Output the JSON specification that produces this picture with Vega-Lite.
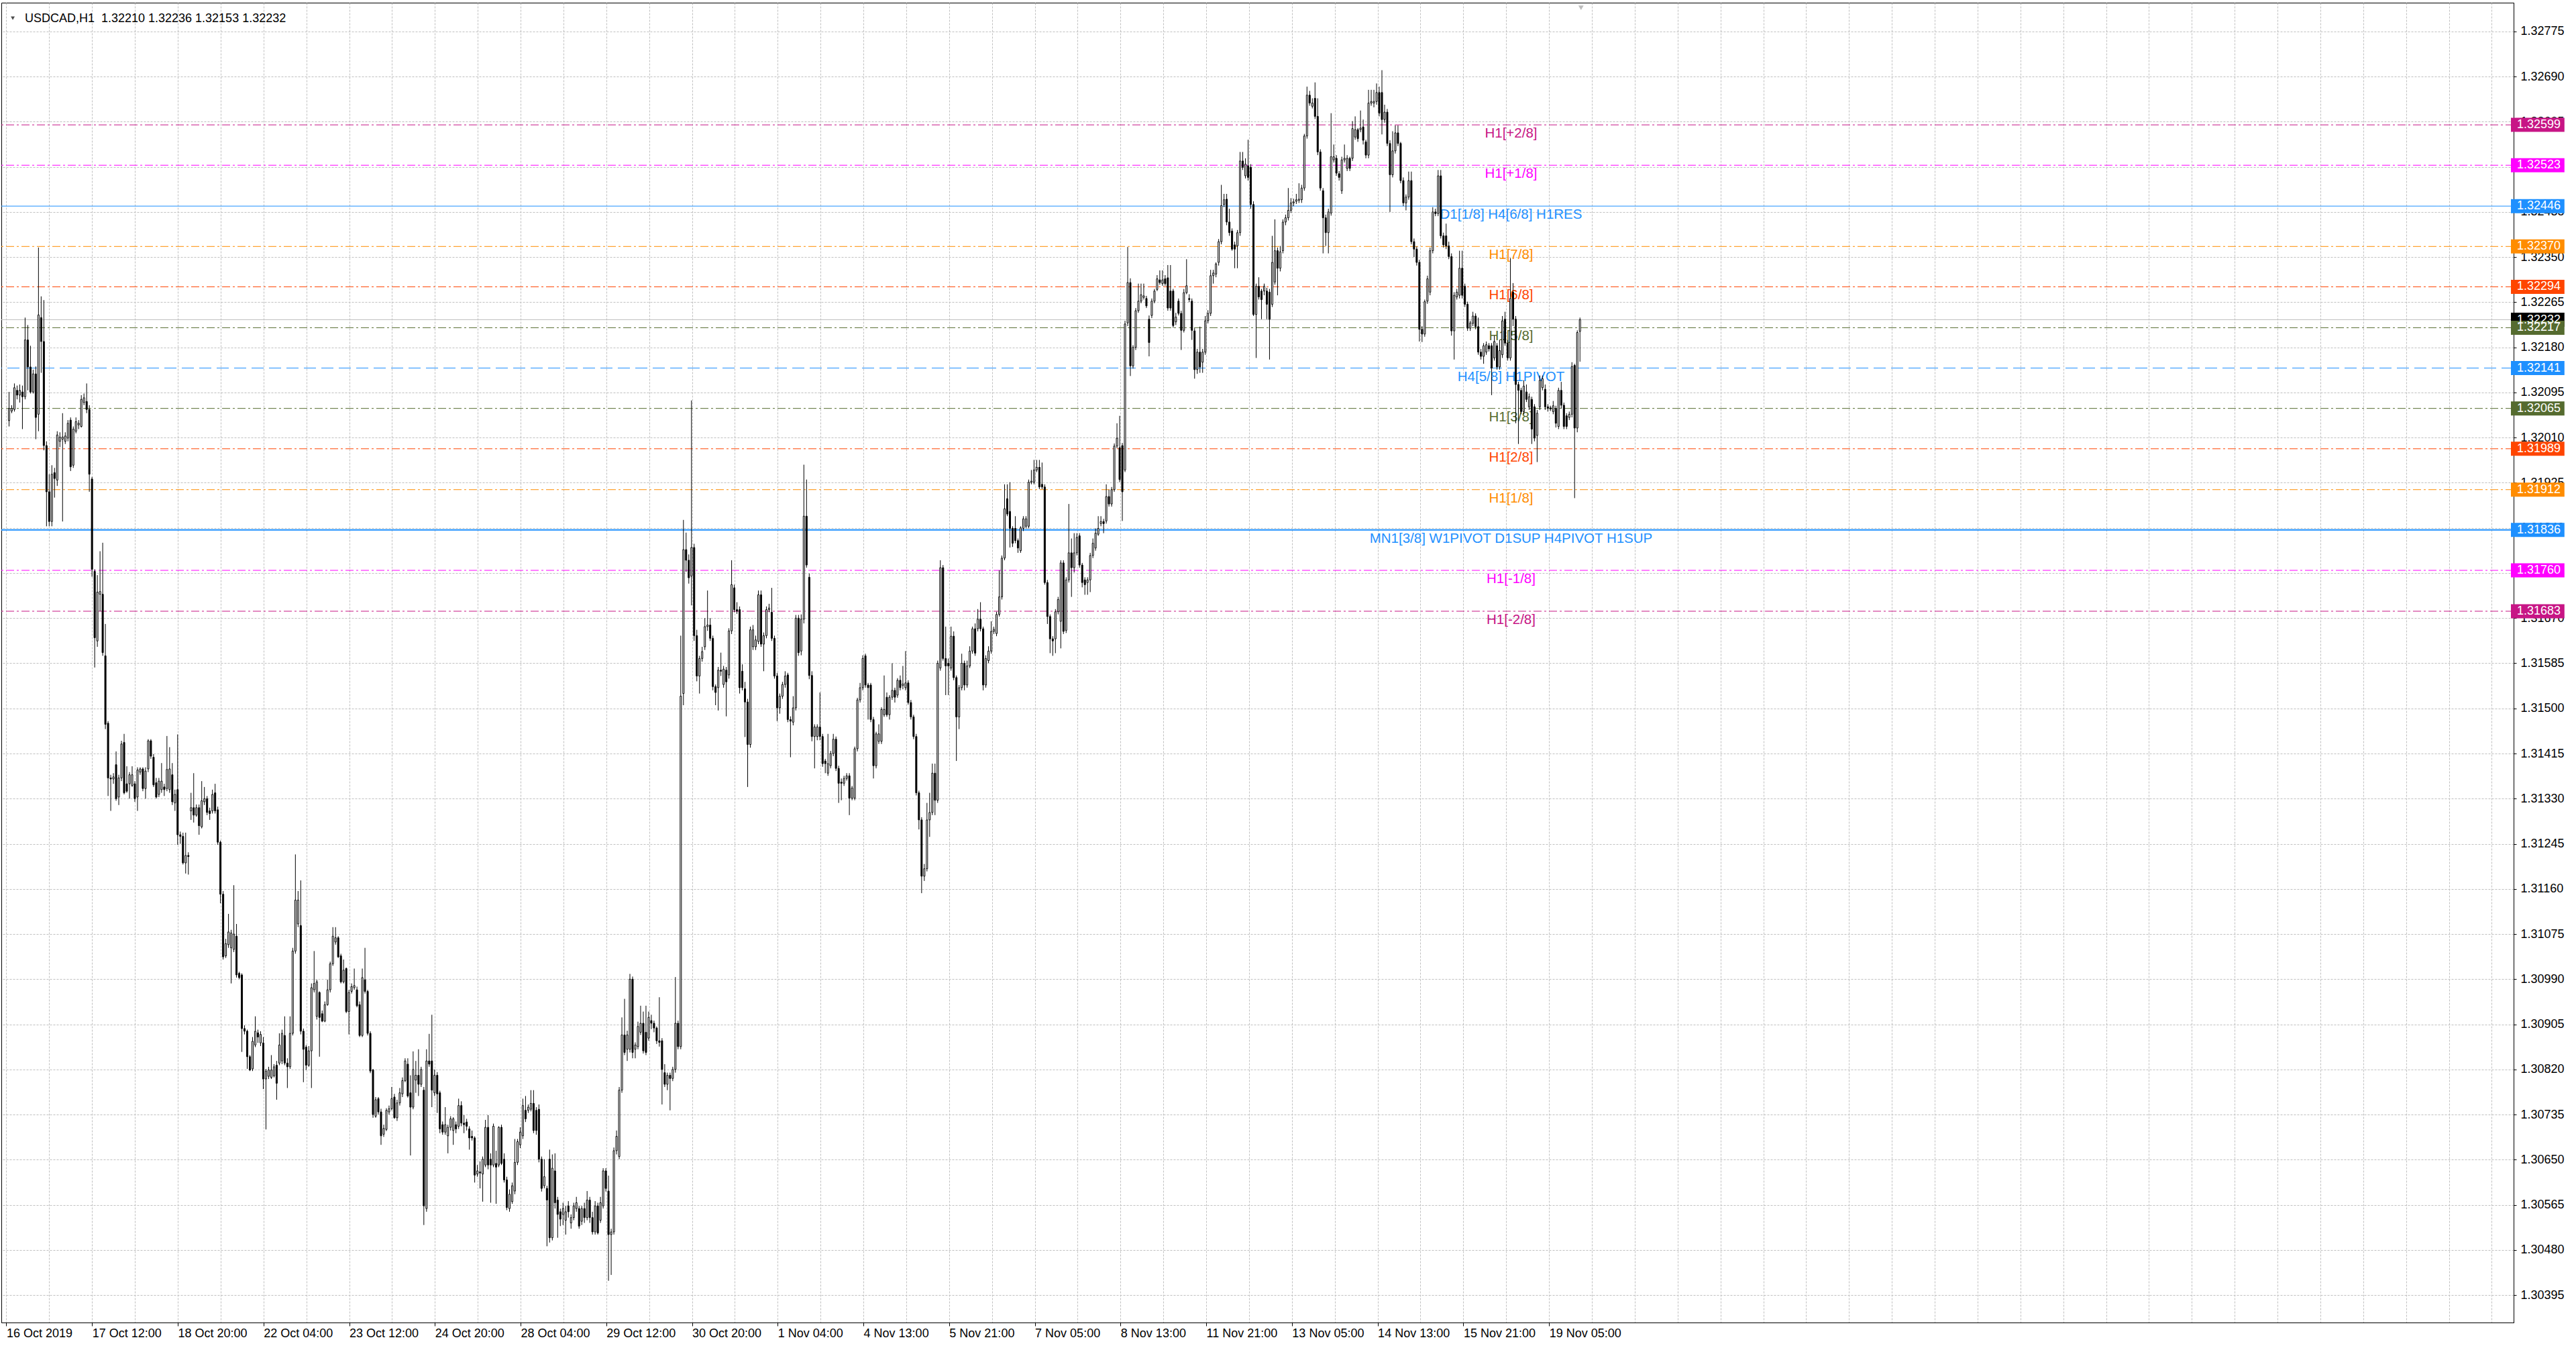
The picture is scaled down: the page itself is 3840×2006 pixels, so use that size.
{
"$schema":"https://vega.github.io/schema/vega-lite/v6.json",
"width":3745,"height":1967,
"autosize":{"type":"none"},
"padding":{"left":2,"top":4,"right":93,"bottom":35},
"background":"white",
"config":{"view":{"stroke":"black","strokeWidth":1},"font":"Liberation Sans"},
"resolve":{"axis":{"x":"independent","y":"independent"}},
"datasets":{
"levels":[
{"p":1.32232,"t":"","c":"gray","s":"solid"},
{"p":1.32599,"t":"H1[+2/8]","c":"mvr","s":"dd"},
{"p":1.32523,"t":"H1[+1/8]","c":"mag","s":"dd"},
{"p":1.32446,"t":"D1[1/8] H4[6/8] H1RES","c":"blue","s":"solid"},
{"p":1.3237,"t":"H1[7/8]","c":"orange","s":"dd"},
{"p":1.32294,"t":"H1[6/8]","c":"ored","s":"dd"},
{"p":1.32217,"t":"H1[5/8]","c":"olive","s":"dd"},
{"p":1.32141,"t":"H4[5/8] H1PIVOT","c":"blue","s":"dash"},
{"p":1.32065,"t":"H1[3/8]","c":"olive","s":"dd"},
{"p":1.31989,"t":"H1[2/8]","c":"ored","s":"dd"},
{"p":1.31912,"t":"H1[1/8]","c":"orange","s":"dd"},
{"p":1.31836,"t":"MN1[3/8] W1PIVOT D1SUP H4PIVOT H1SUP","c":"blue","s":"thick"},
{"p":1.3176,"t":"H1[-1/8]","c":"mag","s":"dd"},
{"p":1.31683,"t":"H1[-2/8]","c":"mvr","s":"dd"}
],
"boxes":[
{"p":1.32232,"c":"black"},
{"p":1.32599,"c":"mvr"},
{"p":1.32523,"c":"mag"},
{"p":1.32446,"c":"blue"},
{"p":1.3237,"c":"orange"},
{"p":1.32294,"c":"ored"},
{"p":1.32217,"c":"olive"},
{"p":1.32141,"c":"blue"},
{"p":1.32065,"c":"olive"},
{"p":1.31989,"c":"ored"},
{"p":1.31912,"c":"orange"},
{"p":1.31836,"c":"blue"},
{"p":1.3176,"c":"mag"},
{"p":1.31683,"c":"mvr"}
],
"bars":[
{"i":0,"o":1.32042,"h":1.32096,"l":1.32031,"c":1.32065},
{"i":1,"o":1.32060,"h":1.32071,"l":1.32056,"c":1.32065},
{"i":2,"o":1.32063,"h":1.32112,"l":1.32059,"c":1.32104},
{"i":3,"o":1.32099,"h":1.32108,"l":1.32082,"c":1.32090},
{"i":4,"o":1.32090,"h":1.32110,"l":1.32076,"c":1.32099},
{"i":5,"o":1.32096,"h":1.32108,"l":1.32026,"c":1.32087},
{"i":6,"o":1.32087,"h":1.32236,"l":1.32082,"c":1.32194},
{"i":7,"o":1.32194,"h":1.32222,"l":1.32099,"c":1.32143},
{"i":8,"o":1.32143,"h":1.32183,"l":1.32093,"c":1.32096},
{"i":9,"o":1.32096,"h":1.32138,"l":1.32093,"c":1.32130},
{"i":10,"o":1.32130,"h":1.32144,"l":1.32007,"c":1.32048},
{"i":11,"o":1.32054,"h":1.32368,"l":1.32022,"c":1.32241},
{"i":12,"o":1.32236,"h":1.32276,"l":1.32132,"c":1.32191},
{"i":13,"o":1.32191,"h":1.32269,"l":1.31986,"c":1.31995},
{"i":14,"o":1.31995,"h":1.32003,"l":1.31843,"c":1.31908},
{"i":15,"o":1.31908,"h":1.31941,"l":1.31843,"c":1.31852},
{"i":16,"o":1.31852,"h":1.31958,"l":1.31843,"c":1.31941},
{"i":17,"o":1.31944,"h":1.31953,"l":1.31897,"c":1.31933},
{"i":18,"o":1.31930,"h":1.32022,"l":1.31919,"c":1.32015},
{"i":19,"o":1.32003,"h":1.32020,"l":1.31992,"c":1.32011},
{"i":20,"o":1.32007,"h":1.32056,"l":1.31852,"c":1.32011},
{"i":21,"o":1.32003,"h":1.32020,"l":1.31998,"c":1.32013},
{"i":22,"o":1.32009,"h":1.32043,"l":1.32003,"c":1.32037},
{"i":23,"o":1.32043,"h":1.32048,"l":1.31947,"c":1.31955},
{"i":24,"o":1.31958,"h":1.32031,"l":1.31953,"c":1.32026},
{"i":25,"o":1.32022,"h":1.32048,"l":1.32018,"c":1.32040},
{"i":26,"o":1.32034,"h":1.32043,"l":1.32026,"c":1.32037},
{"i":27,"o":1.32031,"h":1.32090,"l":1.32029,"c":1.32082},
{"i":28,"o":1.32076,"h":1.32093,"l":1.32071,"c":1.32085},
{"i":29,"o":1.32078,"h":1.32112,"l":1.32056,"c":1.32063},
{"i":30,"o":1.32063,"h":1.32071,"l":1.31908,"c":1.31941},
{"i":31,"o":1.31932,"h":1.31936,"l":1.31748,"c":1.31762},
{"i":32,"o":1.31758,"h":1.31762,"l":1.31577,"c":1.31633},
{"i":33,"o":1.31627,"h":1.31751,"l":1.31616,"c":1.31719},
{"i":34,"o":1.31715,"h":1.31796,"l":1.31683,"c":1.31720},
{"i":35,"o":1.31715,"h":1.31812,"l":1.31599,"c":1.31605},
{"i":36,"o":1.31599,"h":1.31659,"l":1.31461,"c":1.31470},
{"i":37,"o":1.31472,"h":1.31476,"l":1.31335,"c":1.31369},
{"i":38,"o":1.31369,"h":1.31375,"l":1.31307,"c":1.31367},
{"i":39,"o":1.31367,"h":1.31378,"l":1.31358,"c":1.31371},
{"i":40,"o":1.31394,"h":1.31419,"l":1.31326,"c":1.31330},
{"i":41,"o":1.31333,"h":1.31375,"l":1.31318,"c":1.31369},
{"i":42,"o":1.31369,"h":1.31439,"l":1.31363,"c":1.31433},
{"i":43,"o":1.31436,"h":1.31452,"l":1.31338,"c":1.31341},
{"i":44,"o":1.31358,"h":1.31391,"l":1.31341,"c":1.31344},
{"i":45,"o":1.31358,"h":1.31380,"l":1.31330,"c":1.31375},
{"i":46,"o":1.31355,"h":1.31391,"l":1.31352,"c":1.31375},
{"i":47,"o":1.31358,"h":1.31363,"l":1.31324,"c":1.31330},
{"i":48,"o":1.31333,"h":1.31389,"l":1.31307,"c":1.31384},
{"i":49,"o":1.31380,"h":1.31389,"l":1.31375,"c":1.31386},
{"i":50,"o":1.31386,"h":1.31389,"l":1.31344,"c":1.31349},
{"i":51,"o":1.31349,"h":1.31389,"l":1.31330,"c":1.31382},
{"i":52,"o":1.31386,"h":1.31442,"l":1.31380,"c":1.31439},
{"i":53,"o":1.31439,"h":1.31442,"l":1.31405,"c":1.31410},
{"i":54,"o":1.31408,"h":1.31414,"l":1.31352,"c":1.31356},
{"i":55,"o":1.31360,"h":1.31369,"l":1.31330,"c":1.31333},
{"i":56,"o":1.31338,"h":1.31369,"l":1.31333,"c":1.31363},
{"i":57,"o":1.31347,"h":1.31397,"l":1.31341,"c":1.31363},
{"i":58,"o":1.31352,"h":1.31358,"l":1.31335,"c":1.31347},
{"i":59,"o":1.31349,"h":1.31448,"l":1.31344,"c":1.31385},
{"i":60,"o":1.31347,"h":1.31427,"l":1.31341,"c":1.31386},
{"i":61,"o":1.31375,"h":1.31397,"l":1.31318,"c":1.31324},
{"i":62,"o":1.31322,"h":1.31347,"l":1.31307,"c":1.31338},
{"i":63,"o":1.31347,"h":1.31451,"l":1.31243,"c":1.31262},
{"i":64,"o":1.31262,"h":1.31268,"l":1.31245,"c":1.31259},
{"i":65,"o":1.31259,"h":1.31266,"l":1.31206,"c":1.31209},
{"i":66,"o":1.31209,"h":1.31266,"l":1.31189,"c":1.31223},
{"i":67,"o":1.31223,"h":1.31229,"l":1.31187,"c":1.31221},
{"i":68,"o":1.31307,"h":1.31341,"l":1.31290,"c":1.31313},
{"i":69,"o":1.31313,"h":1.31378,"l":1.31285,"c":1.31299},
{"i":70,"o":1.31299,"h":1.31319,"l":1.31296,"c":1.31313},
{"i":71,"o":1.31313,"h":1.31319,"l":1.31262,"c":1.31279},
{"i":72,"o":1.31277,"h":1.31363,"l":1.31274,"c":1.31326},
{"i":73,"o":1.31324,"h":1.31352,"l":1.31318,"c":1.31330},
{"i":74,"o":1.31330,"h":1.31335,"l":1.31299,"c":1.31304},
{"i":75,"o":1.31307,"h":1.31313,"l":1.31290,"c":1.31302},
{"i":76,"o":1.31307,"h":1.31347,"l":1.31302,"c":1.31338},
{"i":77,"o":1.31341,"h":1.31358,"l":1.31302,"c":1.31307},
{"i":78,"o":1.31309,"h":1.31315,"l":1.31243,"c":1.31248},
{"i":79,"o":1.31248,"h":1.31251,"l":1.31133,"c":1.31150},
{"i":80,"o":1.31150,"h":1.31156,"l":1.31027,"c":1.31032},
{"i":81,"o":1.31034,"h":1.31066,"l":1.31030,"c":1.31057},
{"i":82,"o":1.31055,"h":1.31113,"l":1.31049,"c":1.31079},
{"i":83,"o":1.31049,"h":1.31083,"l":1.30982,"c":1.31077},
{"i":84,"o":1.31046,"h":1.31167,"l":1.31041,"c":1.31075},
{"i":85,"o":1.31071,"h":1.31094,"l":1.30993,"c":1.30998},
{"i":86,"o":1.31001,"h":1.31004,"l":1.30990,"c":1.30993},
{"i":87,"o":1.30998,"h":1.31001,"l":1.30853,"c":1.30897},
{"i":88,"o":1.30897,"h":1.30903,"l":1.30886,"c":1.30892},
{"i":89,"o":1.30892,"h":1.30895,"l":1.30821,"c":1.30844},
{"i":90,"o":1.30844,"h":1.30847,"l":1.30817,"c":1.30819},
{"i":91,"o":1.30821,"h":1.30881,"l":1.30817,"c":1.30873},
{"i":92,"o":1.30866,"h":1.30920,"l":1.30862,"c":1.30892},
{"i":93,"o":1.30889,"h":1.30895,"l":1.30870,"c":1.30881},
{"i":94,"o":1.30870,"h":1.30892,"l":1.30864,"c":1.30886},
{"i":95,"o":1.30870,"h":1.30881,"l":1.30783,"c":1.30802},
{"i":96,"o":1.30802,"h":1.30821,"l":1.30707,"c":1.30817},
{"i":97,"o":1.30807,"h":1.30825,"l":1.30802,"c":1.30819},
{"i":98,"o":1.30805,"h":1.30847,"l":1.30802,"c":1.30819},
{"i":99,"o":1.30808,"h":1.30830,"l":1.30805,"c":1.30825},
{"i":100,"o":1.30828,"h":1.30836,"l":1.30763,"c":1.30794},
{"i":101,"o":1.30832,"h":1.30888,"l":1.30828,"c":1.30866},
{"i":102,"o":1.30836,"h":1.30895,"l":1.30830,"c":1.30888},
{"i":103,"o":1.30884,"h":1.30920,"l":1.30828,"c":1.30832},
{"i":104,"o":1.30832,"h":1.30841,"l":1.30785,"c":1.30825},
{"i":105,"o":1.30825,"h":1.30920,"l":1.30821,"c":1.30888},
{"i":106,"o":1.30888,"h":1.31049,"l":1.30884,"c":1.31043},
{"i":107,"o":1.31043,"h":1.31225,"l":1.31038,"c":1.31139},
{"i":108,"o":1.31094,"h":1.31156,"l":1.31088,"c":1.31139},
{"i":109,"o":1.31091,"h":1.31176,"l":1.30886,"c":1.30892},
{"i":110,"o":1.30892,"h":1.30897,"l":1.30796,"c":1.30858},
{"i":111,"o":1.30862,"h":1.30866,"l":1.30819,"c":1.30828},
{"i":112,"o":1.30828,"h":1.30864,"l":1.30825,"c":1.30855},
{"i":113,"o":1.30855,"h":1.30982,"l":1.30785,"c":1.30974},
{"i":114,"o":1.30970,"h":1.31043,"l":1.30965,"c":1.30982},
{"i":115,"o":1.30920,"h":1.30989,"l":1.30914,"c":1.30985},
{"i":116,"o":1.30965,"h":1.30967,"l":1.30844,"c":1.30918},
{"i":117,"o":1.30925,"h":1.30931,"l":1.30909,"c":1.30911},
{"i":118,"o":1.30911,"h":1.30948,"l":1.30909,"c":1.30942},
{"i":119,"o":1.30942,"h":1.30989,"l":1.30940,"c":1.30970},
{"i":120,"o":1.30970,"h":1.31023,"l":1.30965,"c":1.31019},
{"i":121,"o":1.31019,"h":1.31088,"l":1.31015,"c":1.31071},
{"i":122,"o":1.31060,"h":1.31088,"l":1.31055,"c":1.31068},
{"i":123,"o":1.31068,"h":1.31071,"l":1.31030,"c":1.31032},
{"i":124,"o":1.31034,"h":1.31038,"l":1.30982,"c":1.30985},
{"i":125,"o":1.30985,"h":1.31027,"l":1.30982,"c":1.31007},
{"i":126,"o":1.31010,"h":1.31012,"l":1.30926,"c":1.30929},
{"i":127,"o":1.30929,"h":1.30970,"l":1.30886,"c":1.30965},
{"i":128,"o":1.30967,"h":1.30982,"l":1.30963,"c":1.30976},
{"i":129,"o":1.30974,"h":1.31010,"l":1.30970,"c":1.30978},
{"i":130,"o":1.30970,"h":1.30976,"l":1.30937,"c":1.30940},
{"i":131,"o":1.30942,"h":1.30948,"l":1.30881,"c":1.30884},
{"i":132,"o":1.30884,"h":1.31010,"l":1.30881,"c":1.30993},
{"i":133,"o":1.30989,"h":1.31049,"l":1.30963,"c":1.30967},
{"i":134,"o":1.30967,"h":1.30970,"l":1.30884,"c":1.30888},
{"i":135,"o":1.30888,"h":1.30892,"l":1.30813,"c":1.30817},
{"i":136,"o":1.30819,"h":1.30821,"l":1.30729,"c":1.30735},
{"i":137,"o":1.30732,"h":1.30768,"l":1.30729,"c":1.30763},
{"i":138,"o":1.30765,"h":1.30768,"l":1.30735,"c":1.30740},
{"i":139,"o":1.30740,"h":1.30746,"l":1.30678,"c":1.30695},
{"i":140,"o":1.30698,"h":1.30716,"l":1.30693,"c":1.30709},
{"i":141,"o":1.30707,"h":1.30747,"l":1.30704,"c":1.30743},
{"i":142,"o":1.30740,"h":1.30752,"l":1.30735,"c":1.30746},
{"i":143,"o":1.30746,"h":1.30787,"l":1.30743,"c":1.30765},
{"i":144,"o":1.30768,"h":1.30774,"l":1.30727,"c":1.30729},
{"i":145,"o":1.30729,"h":1.30763,"l":1.30723,"c":1.30757},
{"i":146,"o":1.30757,"h":1.30785,"l":1.30752,"c":1.30776},
{"i":147,"o":1.30774,"h":1.30805,"l":1.30768,"c":1.30799},
{"i":148,"o":1.30799,"h":1.30841,"l":1.30796,"c":1.30836},
{"i":149,"o":1.30830,"h":1.30841,"l":1.30767,"c":1.30770},
{"i":150,"o":1.30776,"h":1.30809,"l":1.30658,"c":1.30749},
{"i":151,"o":1.30749,"h":1.30854,"l":1.30745,"c":1.30820},
{"i":152,"o":1.30800,"h":1.30836,"l":1.30776,"c":1.30809},
{"i":153,"o":1.30809,"h":1.30858,"l":1.30770,"c":1.30792},
{"i":154,"o":1.30792,"h":1.30825,"l":1.30787,"c":1.30820},
{"i":155,"o":1.30781,"h":1.30787,"l":1.30527,"c":1.30563},
{"i":156,"o":1.30558,"h":1.30858,"l":1.30552,"c":1.30836},
{"i":157,"o":1.30836,"h":1.30887,"l":1.30825,"c":1.30830},
{"i":158,"o":1.30836,"h":1.30923,"l":1.30749,"c":1.30781},
{"i":159,"o":1.30776,"h":1.30820,"l":1.30770,"c":1.30809},
{"i":160,"o":1.30809,"h":1.30815,"l":1.30738,"c":1.30774},
{"i":161,"o":1.30776,"h":1.30780,"l":1.30700,"c":1.30708},
{"i":162,"o":1.30716,"h":1.30722,"l":1.30697,"c":1.30702},
{"i":163,"o":1.30702,"h":1.30749,"l":1.30697,"c":1.30716},
{"i":164,"o":1.30695,"h":1.30716,"l":1.30662,"c":1.30711},
{"i":165,"o":1.30711,"h":1.30732,"l":1.30705,"c":1.30727},
{"i":166,"o":1.30705,"h":1.30730,"l":1.30678,"c":1.30727},
{"i":167,"o":1.30716,"h":1.30722,"l":1.30700,"c":1.30708},
{"i":168,"o":1.30713,"h":1.30765,"l":1.30708,"c":1.30752},
{"i":169,"o":1.30752,"h":1.30760,"l":1.30713,"c":1.30719},
{"i":170,"o":1.30719,"h":1.30734,"l":1.30700,"c":1.30716},
{"i":171,"o":1.30721,"h":1.30727,"l":1.30705,"c":1.30713},
{"i":172,"o":1.30708,"h":1.30713,"l":1.30669,"c":1.30691},
{"i":173,"o":1.30694,"h":1.30705,"l":1.30686,"c":1.30691},
{"i":174,"o":1.30691,"h":1.30694,"l":1.30607,"c":1.30621},
{"i":175,"o":1.30623,"h":1.30640,"l":1.30618,"c":1.30629},
{"i":176,"o":1.30627,"h":1.30647,"l":1.30596,"c":1.30625},
{"i":177,"o":1.30623,"h":1.30656,"l":1.30571,"c":1.30651},
{"i":178,"o":1.30640,"h":1.30725,"l":1.30636,"c":1.30711},
{"i":179,"o":1.30711,"h":1.30734,"l":1.30632,"c":1.30640},
{"i":180,"o":1.30651,"h":1.30662,"l":1.30569,"c":1.30640},
{"i":181,"o":1.30640,"h":1.30718,"l":1.30636,"c":1.30713},
{"i":182,"o":1.30643,"h":1.30667,"l":1.30567,"c":1.30636},
{"i":183,"o":1.30640,"h":1.30713,"l":1.30636,"c":1.30711},
{"i":184,"o":1.30711,"h":1.30716,"l":1.30640,"c":1.30643},
{"i":185,"o":1.30651,"h":1.30662,"l":1.30607,"c":1.30612},
{"i":186,"o":1.30612,"h":1.30618,"l":1.30555,"c":1.30560},
{"i":187,"o":1.30558,"h":1.30594,"l":1.30552,"c":1.30585},
{"i":188,"o":1.30571,"h":1.30607,"l":1.30567,"c":1.30601},
{"i":189,"o":1.30591,"h":1.30689,"l":1.30585,"c":1.30645},
{"i":190,"o":1.30645,"h":1.30689,"l":1.30640,"c":1.30684},
{"i":191,"o":1.30678,"h":1.30711,"l":1.30672,"c":1.30702},
{"i":192,"o":1.30695,"h":1.30765,"l":1.30689,"c":1.30752},
{"i":193,"o":1.30743,"h":1.30770,"l":1.30721,"c":1.30727},
{"i":194,"o":1.30743,"h":1.30754,"l":1.30738,"c":1.30749},
{"i":195,"o":1.30745,"h":1.30781,"l":1.30741,"c":1.30756},
{"i":196,"o":1.30756,"h":1.30781,"l":1.30700,"c":1.30705},
{"i":197,"o":1.30743,"h":1.30749,"l":1.30697,"c":1.30705},
{"i":198,"o":1.30745,"h":1.30754,"l":1.30645,"c":1.30651},
{"i":199,"o":1.30651,"h":1.30656,"l":1.30590,"c":1.30596},
{"i":200,"o":1.30601,"h":1.30651,"l":1.30596,"c":1.30618},
{"i":201,"o":1.30596,"h":1.30601,"l":1.30487,"c":1.30574},
{"i":202,"o":1.30651,"h":1.30669,"l":1.30494,"c":1.30503},
{"i":203,"o":1.30503,"h":1.30660,"l":1.30498,"c":1.30634},
{"i":204,"o":1.30629,"h":1.30662,"l":1.30558,"c":1.30569},
{"i":205,"o":1.30574,"h":1.30580,"l":1.30503,"c":1.30547},
{"i":206,"o":1.30552,"h":1.30558,"l":1.30525,"c":1.30538},
{"i":207,"o":1.30547,"h":1.30569,"l":1.30527,"c":1.30558},
{"i":208,"o":1.30536,"h":1.30563,"l":1.30509,"c":1.30552},
{"i":209,"o":1.30563,"h":1.30572,"l":1.30541,"c":1.30552},
{"i":210,"o":1.30531,"h":1.30547,"l":1.30520,"c":1.30541},
{"i":211,"o":1.30541,"h":1.30569,"l":1.30536,"c":1.30563},
{"i":212,"o":1.30558,"h":1.30580,"l":1.30552,"c":1.30569},
{"i":213,"o":1.30558,"h":1.30563,"l":1.30520,"c":1.30525},
{"i":214,"o":1.30534,"h":1.30563,"l":1.30527,"c":1.30558},
{"i":215,"o":1.30558,"h":1.30569,"l":1.30531,"c":1.30541},
{"i":216,"o":1.30541,"h":1.30591,"l":1.30536,"c":1.30574},
{"i":217,"o":1.30574,"h":1.30580,"l":1.30531,"c":1.30541},
{"i":218,"o":1.30541,"h":1.30552,"l":1.30509,"c":1.30514},
{"i":219,"o":1.30514,"h":1.30572,"l":1.30509,"c":1.30563},
{"i":220,"o":1.30563,"h":1.30569,"l":1.30509,"c":1.30512},
{"i":221,"o":1.30536,"h":1.30580,"l":1.30531,"c":1.30569},
{"i":222,"o":1.30563,"h":1.30634,"l":1.30558,"c":1.30629},
{"i":223,"o":1.30629,"h":1.30634,"l":1.30590,"c":1.30596},
{"i":224,"o":1.30591,"h":1.30620,"l":1.30422,"c":1.30509},
{"i":225,"o":1.30509,"h":1.30520,"l":1.30433,"c":1.30514},
{"i":226,"o":1.30514,"h":1.30673,"l":1.30509,"c":1.30667},
{"i":227,"o":1.30667,"h":1.30705,"l":1.30660,"c":1.30694},
{"i":228,"o":1.30656,"h":1.30787,"l":1.30651,"c":1.30781},
{"i":229,"o":1.30781,"h":1.30918,"l":1.30776,"c":1.30885},
{"i":230,"o":1.30885,"h":1.30953,"l":1.30847,"c":1.30852},
{"i":231,"o":1.30858,"h":1.30893,"l":1.30836,"c":1.30885},
{"i":232,"o":1.30858,"h":1.31000,"l":1.30852,"c":1.30990},
{"i":233,"o":1.30990,"h":1.30995,"l":1.30841,"c":1.30852},
{"i":234,"o":1.30858,"h":1.30871,"l":1.30841,"c":1.30866},
{"i":235,"o":1.30863,"h":1.30910,"l":1.30858,"c":1.30901},
{"i":236,"o":1.30890,"h":1.30940,"l":1.30885,"c":1.30907},
{"i":237,"o":1.30907,"h":1.30929,"l":1.30850,"c":1.30855},
{"i":238,"o":1.30890,"h":1.30940,"l":1.30847,"c":1.30852},
{"i":239,"o":1.30879,"h":1.30929,"l":1.30874,"c":1.30918},
{"i":240,"o":1.30912,"h":1.30923,"l":1.30896,"c":1.30907},
{"i":241,"o":1.30907,"h":1.30912,"l":1.30890,"c":1.30898},
{"i":242,"o":1.30898,"h":1.30901,"l":1.30868,"c":1.30874},
{"i":243,"o":1.30874,"h":1.30956,"l":1.30863,"c":1.30871},
{"i":244,"o":1.30874,"h":1.30879,"l":1.30754,"c":1.30820},
{"i":245,"o":1.30814,"h":1.30830,"l":1.30787,"c":1.30792},
{"i":246,"o":1.30792,"h":1.30814,"l":1.30781,"c":1.30809},
{"i":247,"o":1.30809,"h":1.30814,"l":1.30743,"c":1.30803},
{"i":248,"o":1.30803,"h":1.30825,"l":1.30798,"c":1.30820},
{"i":249,"o":1.30820,"h":1.30994,"l":1.30814,"c":1.30907},
{"i":250,"o":1.30907,"h":1.30912,"l":1.30858,"c":1.30863},
{"i":251,"o":1.30863,"h":1.31637,"l":1.30858,"c":1.31523},
{"i":252,"o":1.31528,"h":1.31855,"l":1.31506,"c":1.31799},
{"i":253,"o":1.31799,"h":1.31831,"l":1.31757,"c":1.31779},
{"i":254,"o":1.31779,"h":1.31790,"l":1.31735,"c":1.31746},
{"i":255,"o":1.31749,"h":1.32080,"l":1.31694,"c":1.31803},
{"i":256,"o":1.31803,"h":1.31810,"l":1.31627,"c":1.31637},
{"i":257,"o":1.31637,"h":1.31648,"l":1.31551,"c":1.31561},
{"i":258,"o":1.31561,"h":1.31599,"l":1.31528,"c":1.31594},
{"i":259,"o":1.31594,"h":1.31616,"l":1.31588,"c":1.31607},
{"i":260,"o":1.31616,"h":1.31670,"l":1.31610,"c":1.31654},
{"i":261,"o":1.31654,"h":1.31722,"l":1.31646,"c":1.31657},
{"i":262,"o":1.31657,"h":1.31670,"l":1.31627,"c":1.31632},
{"i":263,"o":1.31632,"h":1.31637,"l":1.31534,"c":1.31541},
{"i":264,"o":1.31541,"h":1.31545,"l":1.31506,"c":1.31530},
{"i":265,"o":1.31539,"h":1.31578,"l":1.31496,"c":1.31572},
{"i":266,"o":1.31572,"h":1.31605,"l":1.31561,"c":1.31570},
{"i":267,"o":1.31545,"h":1.31580,"l":1.31539,"c":1.31574},
{"i":268,"o":1.31572,"h":1.31578,"l":1.31485,"c":1.31550},
{"i":269,"o":1.31563,"h":1.31651,"l":1.31556,"c":1.31646},
{"i":270,"o":1.31646,"h":1.31779,"l":1.31640,"c":1.31733},
{"i":271,"o":1.31727,"h":1.31733,"l":1.31681,"c":1.31686},
{"i":272,"o":1.31686,"h":1.31700,"l":1.31678,"c":1.31683},
{"i":273,"o":1.31686,"h":1.31692,"l":1.31528,"c":1.31539},
{"i":274,"o":1.31570,"h":1.31583,"l":1.31534,"c":1.31539},
{"i":275,"o":1.31537,"h":1.31550,"l":1.31446,"c":1.31512},
{"i":276,"o":1.31512,"h":1.31518,"l":1.31352,"c":1.31432},
{"i":277,"o":1.31432,"h":1.31654,"l":1.31426,"c":1.31648},
{"i":278,"o":1.31616,"h":1.31657,"l":1.31610,"c":1.31648},
{"i":279,"o":1.31616,"h":1.31637,"l":1.31610,"c":1.31629},
{"i":280,"o":1.31626,"h":1.31722,"l":1.31621,"c":1.31714},
{"i":281,"o":1.31714,"h":1.31722,"l":1.31616,"c":1.31621},
{"i":282,"o":1.31621,"h":1.31643,"l":1.31570,"c":1.31637},
{"i":283,"o":1.31637,"h":1.31692,"l":1.31632,"c":1.31686},
{"i":284,"o":1.31686,"h":1.31697,"l":1.31681,"c":1.31689},
{"i":285,"o":1.31681,"h":1.31727,"l":1.31627,"c":1.31632},
{"i":286,"o":1.31632,"h":1.31637,"l":1.31556,"c":1.31561},
{"i":287,"o":1.31561,"h":1.31567,"l":1.31476,"c":1.31501},
{"i":288,"o":1.31501,"h":1.31528,"l":1.31490,"c":1.31523},
{"i":289,"o":1.31523,"h":1.31550,"l":1.31518,"c":1.31545},
{"i":290,"o":1.31545,"h":1.31570,"l":1.31539,"c":1.31561},
{"i":291,"o":1.31563,"h":1.31567,"l":1.31474,"c":1.31479},
{"i":292,"o":1.31479,"h":1.31485,"l":1.31408,"c":1.31476},
{"i":293,"o":1.31474,"h":1.31523,"l":1.31468,"c":1.31501},
{"i":294,"o":1.31501,"h":1.31676,"l":1.31496,"c":1.31670},
{"i":295,"o":1.31670,"h":1.31676,"l":1.31599,"c":1.31605},
{"i":296,"o":1.31608,"h":1.31677,"l":1.31600,"c":1.31668},
{"i":297,"o":1.31668,"h":1.31959,"l":1.31660,"c":1.31862},
{"i":298,"o":1.31862,"h":1.31931,"l":1.31765,"c":1.31770},
{"i":299,"o":1.31747,"h":1.31754,"l":1.31555,"c":1.31562},
{"i":300,"o":1.31562,"h":1.31570,"l":1.31438,"c":1.31447},
{"i":301,"o":1.31447,"h":1.31470,"l":1.31387,"c":1.31465},
{"i":302,"o":1.31447,"h":1.31470,"l":1.31440,"c":1.31465},
{"i":303,"o":1.31465,"h":1.31530,"l":1.31440,"c":1.31447},
{"i":304,"o":1.31447,"h":1.31452,"l":1.31390,"c":1.31396},
{"i":305,"o":1.31401,"h":1.31405,"l":1.31378,"c":1.31396},
{"i":306,"o":1.31378,"h":1.31452,"l":1.31373,"c":1.31396},
{"i":307,"o":1.31392,"h":1.31420,"l":1.31387,"c":1.31415},
{"i":308,"o":1.31415,"h":1.31452,"l":1.31410,"c":1.31442},
{"i":309,"o":1.31442,"h":1.31447,"l":1.31382,"c":1.31387},
{"i":310,"o":1.31387,"h":1.31392,"l":1.31322,"c":1.31359},
{"i":311,"o":1.31361,"h":1.31368,"l":1.31327,"c":1.31359},
{"i":312,"o":1.31359,"h":1.31373,"l":1.31354,"c":1.31368},
{"i":313,"o":1.31368,"h":1.31378,"l":1.31364,"c":1.31373},
{"i":314,"o":1.31373,"h":1.31378,"l":1.31299,"c":1.31331},
{"i":315,"o":1.31331,"h":1.31354,"l":1.31327,"c":1.31350},
{"i":316,"o":1.31331,"h":1.31428,"l":1.31327,"c":1.31424},
{"i":317,"o":1.31424,"h":1.31520,"l":1.31419,"c":1.31516},
{"i":318,"o":1.31516,"h":1.31548,"l":1.31511,"c":1.31539},
{"i":319,"o":1.31539,"h":1.31600,"l":1.31534,"c":1.31594},
{"i":320,"o":1.31599,"h":1.31603,"l":1.31539,"c":1.31544},
{"i":321,"o":1.31544,"h":1.31548,"l":1.31479,"c":1.31539},
{"i":322,"o":1.31544,"h":1.31548,"l":1.31474,"c":1.31479},
{"i":323,"o":1.31479,"h":1.31484,"l":1.31368,"c":1.31392},
{"i":324,"o":1.31392,"h":1.31456,"l":1.31387,"c":1.31452},
{"i":325,"o":1.31438,"h":1.31470,"l":1.31433,"c":1.31452},
{"i":326,"o":1.31438,"h":1.31502,"l":1.31433,"c":1.31498},
{"i":327,"o":1.31488,"h":1.31562,"l":1.31484,"c":1.31498},
{"i":328,"o":1.31521,"h":1.31530,"l":1.31484,"c":1.31488},
{"i":329,"o":1.31488,"h":1.31525,"l":1.31479,"c":1.31521},
{"i":330,"o":1.31521,"h":1.31585,"l":1.31516,"c":1.31534},
{"i":331,"o":1.31534,"h":1.31539,"l":1.31511,"c":1.31521},
{"i":332,"o":1.31525,"h":1.31557,"l":1.31520,"c":1.31553},
{"i":333,"o":1.31553,"h":1.31562,"l":1.31534,"c":1.31539},
{"i":334,"o":1.31543,"h":1.31580,"l":1.31536,"c":1.31546},
{"i":335,"o":1.31539,"h":1.31608,"l":1.31534,"c":1.31548},
{"i":336,"o":1.31548,"h":1.31553,"l":1.31507,"c":1.31511},
{"i":337,"o":1.31511,"h":1.31516,"l":1.31479,"c":1.31484},
{"i":338,"o":1.31484,"h":1.31488,"l":1.31442,"c":1.31447},
{"i":339,"o":1.31447,"h":1.31452,"l":1.31336,"c":1.31341},
{"i":340,"o":1.31341,"h":1.31345,"l":1.31272,"c":1.31290},
{"i":341,"o":1.31290,"h":1.31295,"l":1.31152,"c":1.31184},
{"i":342,"o":1.31184,"h":1.31207,"l":1.31175,"c":1.31198},
{"i":343,"o":1.31198,"h":1.31322,"l":1.31193,"c":1.31290},
{"i":344,"o":1.31290,"h":1.31341,"l":1.31258,"c":1.31304},
{"i":345,"o":1.31304,"h":1.31396,"l":1.31299,"c":1.31378},
{"i":346,"o":1.31378,"h":1.31396,"l":1.31299,"c":1.31327},
{"i":347,"o":1.31327,"h":1.31590,"l":1.31322,"c":1.31585},
{"i":348,"o":1.31576,"h":1.31779,"l":1.31571,"c":1.31765},
{"i":349,"o":1.31765,"h":1.31770,"l":1.31590,"c":1.31594},
{"i":350,"o":1.31594,"h":1.31654,"l":1.31525,"c":1.31580},
{"i":351,"o":1.31585,"h":1.31594,"l":1.31525,"c":1.31580},
{"i":352,"o":1.31576,"h":1.31654,"l":1.31571,"c":1.31636},
{"i":353,"o":1.31636,"h":1.31645,"l":1.31553,"c":1.31558},
{"i":354,"o":1.31558,"h":1.31562,"l":1.31401,"c":1.31484},
{"i":355,"o":1.31484,"h":1.31544,"l":1.31461,"c":1.31539},
{"i":356,"o":1.31539,"h":1.31603,"l":1.31534,"c":1.31585},
{"i":357,"o":1.31585,"h":1.31590,"l":1.31534,"c":1.31544},
{"i":358,"o":1.31544,"h":1.31590,"l":1.31539,"c":1.31580},
{"i":359,"o":1.31580,"h":1.31617,"l":1.31576,"c":1.31608},
{"i":360,"o":1.31608,"h":1.31654,"l":1.31603,"c":1.31650},
{"i":361,"o":1.31650,"h":1.31660,"l":1.31599,"c":1.31604},
{"i":362,"o":1.31650,"h":1.31687,"l":1.31645,"c":1.31668},
{"i":363,"o":1.31668,"h":1.31700,"l":1.31645,"c":1.31650},
{"i":364,"o":1.31650,"h":1.31654,"l":1.31534,"c":1.31544},
{"i":365,"o":1.31544,"h":1.31600,"l":1.31539,"c":1.31594},
{"i":366,"o":1.31590,"h":1.31617,"l":1.31585,"c":1.31608},
{"i":367,"o":1.31608,"h":1.31664,"l":1.31603,"c":1.31645},
{"i":368,"o":1.31645,"h":1.31654,"l":1.31640,"c":1.31649},
{"i":369,"o":1.31641,"h":1.31682,"l":1.31636,"c":1.31677},
{"i":370,"o":1.31677,"h":1.31760,"l":1.31673,"c":1.31710},
{"i":371,"o":1.31710,"h":1.31788,"l":1.31705,"c":1.31783},
{"i":372,"o":1.31783,"h":1.31922,"l":1.31779,"c":1.31876},
{"i":373,"o":1.31895,"h":1.31922,"l":1.31862,"c":1.31866},
{"i":374,"o":1.31871,"h":1.31926,"l":1.31803,"c":1.31839},
{"i":375,"o":1.31839,"h":1.31843,"l":1.31804,"c":1.31811},
{"i":376,"o":1.31839,"h":1.31862,"l":1.31811,"c":1.31816},
{"i":377,"o":1.31816,"h":1.31820,"l":1.31793,"c":1.31802},
{"i":378,"o":1.31797,"h":1.31843,"l":1.31793,"c":1.31840},
{"i":379,"o":1.31839,"h":1.31862,"l":1.31834,"c":1.31857},
{"i":380,"o":1.31843,"h":1.31862,"l":1.31839,"c":1.31857},
{"i":381,"o":1.31843,"h":1.31931,"l":1.31839,"c":1.31926},
{"i":382,"o":1.31926,"h":1.31949,"l":1.31922,"c":1.31928},
{"i":383,"o":1.31926,"h":1.31968,"l":1.31922,"c":1.31949},
{"i":384,"o":1.31949,"h":1.31968,"l":1.31945,"c":1.31954},
{"i":385,"o":1.31954,"h":1.31968,"l":1.31913,"c":1.31917},
{"i":386,"o":1.31922,"h":1.31963,"l":1.31913,"c":1.31917},
{"i":387,"o":1.31917,"h":1.31922,"l":1.31733,"c":1.31737},
{"i":388,"o":1.31737,"h":1.31742,"l":1.31659,"c":1.31673},
{"i":389,"o":1.31673,"h":1.31677,"l":1.31604,"c":1.31631},
{"i":390,"o":1.31631,"h":1.31636,"l":1.31599,"c":1.31627},
{"i":391,"o":1.31631,"h":1.31687,"l":1.31604,"c":1.31682},
{"i":392,"o":1.31682,"h":1.31710,"l":1.31677,"c":1.31705},
{"i":393,"o":1.31664,"h":1.31779,"l":1.31613,"c":1.31774},
{"i":394,"o":1.31774,"h":1.31779,"l":1.31640,"c":1.31645},
{"i":395,"o":1.31647,"h":1.31747,"l":1.31642,"c":1.31742},
{"i":396,"o":1.31742,"h":1.31885,"l":1.31737,"c":1.31793},
{"i":397,"o":1.31793,"h":1.31820,"l":1.31710,"c":1.31765},
{"i":398,"o":1.31765,"h":1.31830,"l":1.31756,"c":1.31793},
{"i":399,"o":1.31793,"h":1.31830,"l":1.31788,"c":1.31822},
{"i":400,"o":1.31825,"h":1.31830,"l":1.31765,"c":1.31770},
{"i":401,"o":1.31770,"h":1.31774,"l":1.31728,"c":1.31737},
{"i":402,"o":1.31742,"h":1.31747,"l":1.31714,"c":1.31733},
{"i":403,"o":1.31737,"h":1.31747,"l":1.31714,"c":1.31742},
{"i":404,"o":1.31742,"h":1.31793,"l":1.31719,"c":1.31788},
{"i":405,"o":1.31788,"h":1.31820,"l":1.31783,"c":1.31811},
{"i":406,"o":1.31802,"h":1.31839,"l":1.31797,"c":1.31830},
{"i":407,"o":1.31828,"h":1.31862,"l":1.31825,"c":1.31839},
{"i":408,"o":1.31848,"h":1.31862,"l":1.31843,"c":1.31852},
{"i":409,"o":1.31852,"h":1.31857,"l":1.31830,"c":1.31848},
{"i":410,"o":1.31853,"h":1.31922,"l":1.31848,"c":1.31899},
{"i":411,"o":1.31899,"h":1.31912,"l":1.31880,"c":1.31885},
{"i":412,"o":1.31885,"h":1.31917,"l":1.31880,"c":1.31912},
{"i":413,"o":1.31912,"h":1.31999,"l":1.31908,"c":1.31994},
{"i":414,"o":1.31994,"h":1.32037,"l":1.31990,"c":1.32009},
{"i":415,"o":1.31991,"h":1.32051,"l":1.31926,"c":1.31931},
{"i":416,"o":1.31995,"h":1.32000,"l":1.31853,"c":1.31908},
{"i":417,"o":1.31949,"h":1.32230,"l":1.31945,"c":1.32224},
{"i":418,"o":1.32226,"h":1.32369,"l":1.32220,"c":1.32302},
{"i":419,"o":1.32302,"h":1.32310,"l":1.32126,"c":1.32145},
{"i":420,"o":1.32145,"h":1.32184,"l":1.32140,"c":1.32180},
{"i":421,"o":1.32180,"h":1.32254,"l":1.32175,"c":1.32249},
{"i":422,"o":1.32249,"h":1.32300,"l":1.32245,"c":1.32267},
{"i":423,"o":1.32267,"h":1.32300,"l":1.32263,"c":1.32279},
{"i":424,"o":1.32274,"h":1.32300,"l":1.32270,"c":1.32277},
{"i":425,"o":1.32272,"h":1.32277,"l":1.32254,"c":1.32258},
{"i":426,"o":1.32233,"h":1.32240,"l":1.32163,"c":1.32189},
{"i":427,"o":1.32240,"h":1.32272,"l":1.32235,"c":1.32267},
{"i":428,"o":1.32267,"h":1.32290,"l":1.32263,"c":1.32286},
{"i":429,"o":1.32289,"h":1.32316,"l":1.32286,"c":1.32309},
{"i":430,"o":1.32307,"h":1.32325,"l":1.32298,"c":1.32302},
{"i":431,"o":1.32300,"h":1.32325,"l":1.32296,"c":1.32307},
{"i":432,"o":1.32309,"h":1.32316,"l":1.32296,"c":1.32300},
{"i":433,"o":1.32311,"h":1.32335,"l":1.32249,"c":1.32254},
{"i":434,"o":1.32286,"h":1.32335,"l":1.32249,"c":1.32254},
{"i":435,"o":1.32286,"h":1.32290,"l":1.32217,"c":1.32221},
{"i":436,"o":1.32228,"h":1.32245,"l":1.32222,"c":1.32237},
{"i":437,"o":1.32267,"h":1.32272,"l":1.32240,"c":1.32244},
{"i":438,"o":1.32244,"h":1.32249,"l":1.32175,"c":1.32212},
{"i":439,"o":1.32212,"h":1.32290,"l":1.32208,"c":1.32283},
{"i":440,"o":1.32283,"h":1.32346,"l":1.32280,"c":1.32296},
{"i":441,"o":1.32272,"h":1.32280,"l":1.32265,"c":1.32270},
{"i":442,"o":1.32267,"h":1.32272,"l":1.32194,"c":1.32212},
{"i":443,"o":1.32211,"h":1.32216,"l":1.32121,"c":1.32138},
{"i":444,"o":1.32138,"h":1.32177,"l":1.32130,"c":1.32171},
{"i":445,"o":1.32171,"h":1.32219,"l":1.32132,"c":1.32143},
{"i":446,"o":1.32152,"h":1.32177,"l":1.32132,"c":1.32171},
{"i":447,"o":1.32171,"h":1.32239,"l":1.32166,"c":1.32230},
{"i":448,"o":1.32230,"h":1.32250,"l":1.32225,"c":1.32244},
{"i":449,"o":1.32244,"h":1.32326,"l":1.32239,"c":1.32315},
{"i":450,"o":1.32315,"h":1.32326,"l":1.32300,"c":1.32320},
{"i":451,"o":1.32318,"h":1.32340,"l":1.32312,"c":1.32337},
{"i":452,"o":1.32340,"h":1.32384,"l":1.32334,"c":1.32379},
{"i":453,"o":1.32379,"h":1.32486,"l":1.32374,"c":1.32447},
{"i":454,"o":1.32449,"h":1.32469,"l":1.32444,"c":1.32458},
{"i":455,"o":1.32459,"h":1.32469,"l":1.32410,"c":1.32416},
{"i":456,"o":1.32416,"h":1.32441,"l":1.32390,"c":1.32396},
{"i":457,"o":1.32399,"h":1.32404,"l":1.32362,"c":1.32365},
{"i":458,"o":1.32373,"h":1.32379,"l":1.32329,"c":1.32365},
{"i":459,"o":1.32371,"h":1.32401,"l":1.32329,"c":1.32396},
{"i":460,"o":1.32396,"h":1.32548,"l":1.32390,"c":1.32531},
{"i":461,"o":1.32531,"h":1.32548,"l":1.32514,"c":1.32519},
{"i":462,"o":1.32503,"h":1.32536,"l":1.32498,"c":1.32525},
{"i":463,"o":1.32522,"h":1.32571,"l":1.32494,"c":1.32500},
{"i":464,"o":1.32519,"h":1.32525,"l":1.32441,"c":1.32449},
{"i":465,"o":1.32449,"h":1.32455,"l":1.32239,"c":1.32242},
{"i":466,"o":1.32242,"h":1.32300,"l":1.32160,"c":1.32295},
{"i":467,"o":1.32295,"h":1.32312,"l":1.32270,"c":1.32275},
{"i":468,"o":1.32286,"h":1.32290,"l":1.32233,"c":1.32270},
{"i":469,"o":1.32286,"h":1.32300,"l":1.32278,"c":1.32295},
{"i":470,"o":1.32286,"h":1.32292,"l":1.32233,"c":1.32261},
{"i":471,"o":1.32284,"h":1.32290,"l":1.32157,"c":1.32233},
{"i":472,"o":1.32261,"h":1.32390,"l":1.32256,"c":1.32340},
{"i":473,"o":1.32303,"h":1.32421,"l":1.32298,"c":1.32362},
{"i":474,"o":1.32362,"h":1.32368,"l":1.32278,"c":1.32329},
{"i":475,"o":1.32329,"h":1.32371,"l":1.32323,"c":1.32360},
{"i":476,"o":1.32362,"h":1.32421,"l":1.32357,"c":1.32416},
{"i":477,"o":1.32416,"h":1.32430,"l":1.32410,"c":1.32424},
{"i":478,"o":1.32424,"h":1.32480,"l":1.32419,"c":1.32438},
{"i":479,"o":1.32438,"h":1.32461,"l":1.32433,"c":1.32452},
{"i":480,"o":1.32452,"h":1.32460,"l":1.32446,"c":1.32454},
{"i":481,"o":1.32455,"h":1.32469,"l":1.32450,"c":1.32458},
{"i":482,"o":1.32457,"h":1.32489,"l":1.32452,"c":1.32459},
{"i":483,"o":1.32458,"h":1.32486,"l":1.32452,"c":1.32480},
{"i":484,"o":1.32480,"h":1.32582,"l":1.32475,"c":1.32578},
{"i":485,"o":1.32578,"h":1.32671,"l":1.32573,"c":1.32655},
{"i":486,"o":1.32655,"h":1.32663,"l":1.32635,"c":1.32640},
{"i":487,"o":1.32634,"h":1.32649,"l":1.32630,"c":1.32640},
{"i":488,"o":1.32649,"h":1.32679,"l":1.32610,"c":1.32615},
{"i":489,"o":1.32615,"h":1.32649,"l":1.32542,"c":1.32548},
{"i":490,"o":1.32548,"h":1.32553,"l":1.32475,"c":1.32480},
{"i":491,"o":1.32475,"h":1.32480,"l":1.32357,"c":1.32424},
{"i":492,"o":1.32424,"h":1.32430,"l":1.32371,"c":1.32396},
{"i":493,"o":1.32396,"h":1.32441,"l":1.32357,"c":1.32435},
{"i":494,"o":1.32433,"h":1.32621,"l":1.32428,"c":1.32539},
{"i":495,"o":1.32533,"h":1.32562,"l":1.32528,"c":1.32539},
{"i":496,"o":1.32536,"h":1.32542,"l":1.32503,"c":1.32508},
{"i":497,"o":1.32507,"h":1.32512,"l":1.32494,"c":1.32500},
{"i":498,"o":1.32475,"h":1.32539,"l":1.32469,"c":1.32533},
{"i":499,"o":1.32533,"h":1.32562,"l":1.32528,"c":1.32536},
{"i":500,"o":1.32517,"h":1.32542,"l":1.32512,"c":1.32536},
{"i":501,"o":1.32536,"h":1.32539,"l":1.32512,"c":1.32517},
{"i":502,"o":1.32536,"h":1.32606,"l":1.32531,"c":1.32592},
{"i":503,"o":1.32576,"h":1.32615,"l":1.32571,"c":1.32590},
{"i":504,"o":1.32590,"h":1.32593,"l":1.32567,"c":1.32573},
{"i":505,"o":1.32590,"h":1.32626,"l":1.32585,"c":1.32593},
{"i":506,"o":1.32595,"h":1.32609,"l":1.32562,"c":1.32570},
{"i":507,"o":1.32567,"h":1.32571,"l":1.32536,"c":1.32542},
{"i":508,"o":1.32542,"h":1.32665,"l":1.32536,"c":1.32640},
{"i":509,"o":1.32640,"h":1.32665,"l":1.32635,"c":1.32643},
{"i":510,"o":1.32640,"h":1.32665,"l":1.32632,"c":1.32643},
{"i":511,"o":1.32643,"h":1.32677,"l":1.32637,"c":1.32660},
{"i":512,"o":1.32660,"h":1.32671,"l":1.32615,"c":1.32621},
{"i":513,"o":1.32660,"h":1.32702,"l":1.32581,"c":1.32609},
{"i":514,"o":1.32609,"h":1.32637,"l":1.32603,"c":1.32623},
{"i":515,"o":1.32623,"h":1.32629,"l":1.32559,"c":1.32564},
{"i":516,"o":1.32564,"h":1.32570,"l":1.32435,"c":1.32505},
{"i":517,"o":1.32505,"h":1.32587,"l":1.32500,"c":1.32550},
{"i":518,"o":1.32550,"h":1.32598,"l":1.32545,"c":1.32584},
{"i":519,"o":1.32584,"h":1.32598,"l":1.32559,"c":1.32564},
{"i":520,"o":1.32564,"h":1.32567,"l":1.32489,"c":1.32494},
{"i":521,"o":1.32494,"h":1.32500,"l":1.32446,"c":1.32452},
{"i":522,"o":1.32452,"h":1.32468,"l":1.32438,"c":1.32463},
{"i":523,"o":1.32463,"h":1.32511,"l":1.32458,"c":1.32494},
{"i":524,"o":1.32494,"h":1.32511,"l":1.32374,"c":1.32379},
{"i":525,"o":1.32379,"h":1.32385,"l":1.32350,"c":1.32365},
{"i":526,"o":1.32365,"h":1.32370,"l":1.32334,"c":1.32340},
{"i":527,"o":1.32340,"h":1.32345,"l":1.32191,"c":1.32214},
{"i":528,"o":1.32214,"h":1.32220,"l":1.32190,"c":1.32205},
{"i":529,"o":1.32205,"h":1.32270,"l":1.32200,"c":1.32266},
{"i":530,"o":1.32267,"h":1.32315,"l":1.32262,"c":1.32309},
{"i":531,"o":1.32284,"h":1.32368,"l":1.32278,"c":1.32362},
{"i":532,"o":1.32362,"h":1.32444,"l":1.32357,"c":1.32435},
{"i":533,"o":1.32435,"h":1.32441,"l":1.32427,"c":1.32432},
{"i":534,"o":1.32432,"h":1.32514,"l":1.32427,"c":1.32503},
{"i":535,"o":1.32503,"h":1.32514,"l":1.32385,"c":1.32390},
{"i":536,"o":1.32390,"h":1.32396,"l":1.32368,"c":1.32373},
{"i":537,"o":1.32390,"h":1.32413,"l":1.32365,"c":1.32371},
{"i":538,"o":1.32371,"h":1.32379,"l":1.32346,"c":1.32351},
{"i":539,"o":1.32351,"h":1.32357,"l":1.32202,"c":1.32211},
{"i":540,"o":1.32211,"h":1.32284,"l":1.32157,"c":1.32278},
{"i":541,"o":1.32275,"h":1.32290,"l":1.32270,"c":1.32284},
{"i":542,"o":1.32278,"h":1.32362,"l":1.32272,"c":1.32329},
{"i":543,"o":1.32329,"h":1.32362,"l":1.32272,"c":1.32278},
{"i":544,"o":1.32295,"h":1.32300,"l":1.32256,"c":1.32261},
{"i":545,"o":1.32261,"h":1.32266,"l":1.32211,"c":1.32216},
{"i":546,"o":1.32216,"h":1.32230,"l":1.32211,"c":1.32226},
{"i":547,"o":1.32225,"h":1.32247,"l":1.32220,"c":1.32239},
{"i":548,"o":1.32239,"h":1.32244,"l":1.32214,"c":1.32219},
{"i":549,"o":1.32219,"h":1.32236,"l":1.32166,"c":1.32171},
{"i":550,"o":1.32171,"h":1.32177,"l":1.32157,"c":1.32163},
{"i":551,"o":1.32163,"h":1.32188,"l":1.32149,"c":1.32183},
{"i":552,"o":1.32171,"h":1.32191,"l":1.32166,"c":1.32185},
{"i":553,"o":1.32183,"h":1.32188,"l":1.32172,"c":1.32177},
{"i":554,"o":1.32183,"h":1.32188,"l":1.32090,"c":1.32141},
{"i":555,"o":1.32160,"h":1.32202,"l":1.32155,"c":1.32191},
{"i":556,"o":1.32183,"h":1.32188,"l":1.32138,"c":1.32143},
{"i":557,"o":1.32143,"h":1.32194,"l":1.32138,"c":1.32174},
{"i":558,"o":1.32166,"h":1.32239,"l":1.32160,"c":1.32230},
{"i":559,"o":1.32233,"h":1.32247,"l":1.32183,"c":1.32188},
{"i":560,"o":1.32188,"h":1.32194,"l":1.32155,"c":1.32160},
{"i":561,"o":1.32160,"h":1.32348,"l":1.32155,"c":1.32272},
{"i":562,"o":1.32284,"h":1.32301,"l":1.32220,"c":1.32233},
{"i":563,"o":1.32233,"h":1.32239,"l":1.32037,"c":1.32110},
{"i":564,"o":1.32110,"h":1.32115,"l":1.31998,"c":1.32099},
{"i":565,"o":1.32099,"h":1.32104,"l":1.32054,"c":1.32059},
{"i":566,"o":1.32059,"h":1.32118,"l":1.32054,"c":1.32107},
{"i":567,"o":1.32096,"h":1.32110,"l":1.32077,"c":1.32082},
{"i":568,"o":1.32068,"h":1.32093,"l":1.32062,"c":1.32087},
{"i":569,"o":1.32082,"h":1.32087,"l":1.31998,"c":1.32026},
{"i":570,"o":1.32068,"h":1.32073,"l":1.32003,"c":1.32009},
{"i":571,"o":1.32014,"h":1.32062,"l":1.31964,"c":1.32056},
{"i":572,"o":1.32068,"h":1.32127,"l":1.32062,"c":1.32118},
{"i":573,"o":1.32104,"h":1.32127,"l":1.32099,"c":1.32121},
{"i":574,"o":1.32101,"h":1.32110,"l":1.32062,"c":1.32068},
{"i":575,"o":1.32068,"h":1.32073,"l":1.32059,"c":1.32065},
{"i":576,"o":1.32066,"h":1.32070,"l":1.32060,"c":1.32064},
{"i":577,"o":1.32059,"h":1.32079,"l":1.32054,"c":1.32070},
{"i":578,"o":1.32065,"h":1.32070,"l":1.32029,"c":1.32037},
{"i":579,"o":1.32031,"h":1.32104,"l":1.32026,"c":1.32099},
{"i":580,"o":1.32099,"h":1.32115,"l":1.32065,"c":1.32071},
{"i":581,"o":1.32071,"h":1.32076,"l":1.32026,"c":1.32031},
{"i":582,"o":1.32051,"h":1.32056,"l":1.32026,"c":1.32031},
{"i":583,"o":1.32048,"h":1.32059,"l":1.32043,"c":1.32054},
{"i":584,"o":1.32054,"h":1.32152,"l":1.32048,"c":1.32144},
{"i":585,"o":1.32146,"h":1.32149,"l":1.31896,"c":1.32028},
{"i":586,"o":1.32028,"h":1.32212,"l":1.32020,"c":1.32208},
{"i":587,"o":1.32210,"h":1.32236,"l":1.32153,"c":1.32232}
]
},
"layer":[
{"data":{"name":"levels"},
 "mark":{"type":"rule"},
 "encoding":{
  "y":{"field":"p","type":"quantitative","scale":{"domain":[1.303497,1.328228],"nice":false,"zero":false},"axis":null},
  "color":{"field":"c","type":"nominal","scale":{"domain":["mvr","mag","blue","orange","ored","olive","gray","black"],"range":["#C71585","#FF00FF","#1E90FF","#FF8C00","#FF4500","#556B2F","#C0C0C0","#000000"]},"legend":null},
  "strokeDash":{"field":"s","type":"nominal","scale":{"domain":["dd","solid","dash","thick"],"range":[[12,4,3,4],[1,0],[18,8],[1,0]]},"legend":null},
  "strokeWidth":{"condition":{"test":"datum.s == 'thick'","value":2},"value":1}
 }},
{"data":{"name":"levels"},
 "transform":[{"filter":"datum.t != ''"}],
 "mark":{"type":"text","align":"center","baseline":"middle","dy":13,"font":"Liberation Sans","fontSize":20.5},
 "encoding":{
  "x":{"datum":561.25,"type":"quantitative","scale":{"domain":[-1.625,934.625],"nice":false,"zero":false},"axis":null},
  "y":{"field":"p","type":"quantitative","scale":{"domain":[1.303497,1.328228],"nice":false,"zero":false},"axis":null},
  "text":{"field":"t"},
  "color":{"field":"c","type":"nominal","scale":{"domain":["mvr","mag","blue","orange","ored","olive","gray","black"],"range":["#C71585","#FF00FF","#1E90FF","#FF8C00","#FF4500","#556B2F","#C0C0C0","#000000"]},"legend":null}
 }},
{"data":{"name":"bars"},
 "mark":{"type":"rule","color":"black","strokeWidth":1},
 "encoding":{
  "x":{"field":"i","type":"quantitative","scale":{"domain":[-1.625,934.625],"nice":false,"zero":false},"axis":null},
  "y":{"field":"l","type":"quantitative","scale":{"domain":[1.303497,1.328228],"nice":false,"zero":false},"axis":null},
  "y2":{"field":"h"}
 }},
{"data":{"name":"bars"},
 "mark":{"type":"bar","width":2,"stroke":"black","strokeWidth":1},
 "encoding":{
  "x":{"field":"i","type":"quantitative","scale":{"domain":[-1.625,934.625],"nice":false,"zero":false},
   "axis":{"orient":"bottom","title":null,
    "values":[-1,15.0125,31.025,47.0375,63.05,79.0625,95.075,111.0875,127.1,143.1125,159.125,175.1375,191.15,207.1625,223.175,239.1875,255.2,271.2125,287.225,303.2375,319.25,335.2625,351.275,367.2875,383.3,399.3125,415.325,431.3375,447.35,463.3625,479.375,495.3875,511.4,527.4125,543.425,559.4375,575.45,591.4625,607.475,623.4875,639.5,655.5125,671.525,687.5375,703.55,719.5625,735.575,751.5875,767.6,783.6125,799.625,815.6375,831.65,847.6625,863.675,879.6875,895.7,911.7125,927.725],
    "labelExpr":"(round((datum.value+1)/16.0125) % 2 == 0 && round((datum.value+1)/16.0125) <= 36) ? (['16 Oct 2019','17 Oct 12:00','18 Oct 20:00','22 Oct 04:00','23 Oct 12:00','24 Oct 20:00','28 Oct 04:00','29 Oct 12:00','30 Oct 20:00','1 Nov 04:00','4 Nov 13:00','5 Nov 21:00','7 Nov 05:00','8 Nov 13:00','11 Nov 21:00','13 Nov 05:00','14 Nov 13:00','15 Nov 21:00','19 Nov 05:00'][round((datum.value+1)/32.025)] || '') : ''",
    "grid":true,"gridColor":"#C0C0C0","gridDash":[3,2],"gridWidth":1,
    "domainColor":"black","domainWidth":1,
    "tickColor":"black","tickSize":5,"tickWidth":1,
    "tickOpacity":{"condition":{"test":"round((datum.value+1)/16.0125) % 2 == 0 && round((datum.value+1)/16.0125) <= 36","value":1},"value":0},
    "labelAlign":"left","labelBaseline":"top","labelPadding":2,"labelFont":"Liberation Sans","labelFontSize":18,"labelColor":"black","labelFlush":false,"labelOverlap":false,"labelBound":false}},
  "y":{"field":"o","type":"quantitative","scale":{"domain":[1.303497,1.328228],"nice":false,"zero":false},
   "axis":{"orient":"right","title":null,
    "values":[1.30395,1.3048,1.30565,1.3065,1.30735,1.3082,1.30905,1.3099,1.31075,1.3116,1.31245,1.3133,1.31415,1.315,1.31585,1.3167,1.31755,1.3184,1.31925,1.3201,1.32095,1.3218,1.32265,1.3235,1.32435,1.3252,1.32605,1.3269,1.32775],
    "format":".5f",
    "grid":true,"gridColor":"#C0C0C0","gridDash":[3,2],"gridWidth":1,
    "domainColor":"black","domainWidth":1,"tickColor":"black","tickSize":4,"tickWidth":1,
    "labelAlign":"left","labelBaseline":"middle","labelPadding":6,"labelFont":"Liberation Sans","labelFontSize":18,"labelColor":"black","labelFlush":false,"labelOverlap":false,"labelBound":false}},
  "y2":{"field":"c"},
  "fill":{"condition":{"test":"datum.c >= datum.o","value":"#ffffff"},"value":"#000000"}
 }},
{"data":{"name":"boxes"},
 "mark":{"type":"bar","height":21},
 "encoding":{
  "x":{"datum":934.875,"type":"quantitative","scale":{"domain":[-1.625,934.625],"nice":false,"zero":false},"axis":null},
  "x2":{"datum":954.875},
  "y":{"field":"p","type":"quantitative","scale":{"domain":[1.303497,1.328228],"nice":false,"zero":false},"axis":null},
  "color":{"field":"c","type":"nominal","scale":{"domain":["mvr","mag","blue","orange","ored","olive","gray","black"],"range":["#C71585","#FF00FF","#1E90FF","#FF8C00","#FF4500","#556B2F","#C0C0C0","#000000"]},"legend":null}
 }},
{"data":{"name":"boxes"},
 "mark":{"type":"text","align":"left","baseline":"middle","font":"Liberation Sans","fontSize":18,"color":"white"},
 "encoding":{
  "x":{"datum":937.125,"type":"quantitative","scale":{"domain":[-1.625,934.625],"nice":false,"zero":false},"axis":null},
  "y":{"field":"p","type":"quantitative","scale":{"domain":[1.303497,1.328228],"nice":false,"zero":false},"axis":null},
  "text":{"field":"p","type":"quantitative","format":".5f"}
 }},
{"data":{"values":[{}]},
 "mark":{"type":"text","align":"left","baseline":"middle","font":"Liberation Sans","fontSize":18,"color":"black"},
 "encoding":{
  "x":{"datum":5.875,"type":"quantitative","scale":{"domain":[-1.625,934.625],"nice":false,"zero":false},"axis":null},
  "y":{"datum":1.327989,"type":"quantitative","scale":{"domain":[1.303497,1.328228],"nice":false,"zero":false},"axis":null},
  "text":{"value":"USDCAD,H1\u00a0\u00a01.32210 1.32236 1.32153 1.32232"}
 }},
{"data":{"values":[{}]},
 "mark":{"type":"point","shape":"triangle-down","filled":true,"size":35,"color":"black"},
 "encoding":{
  "x":{"datum":1.4,"type":"quantitative","scale":{"domain":[-1.625,934.625],"nice":false,"zero":false},"axis":null},
  "y":{"datum":1.327999,"type":"quantitative","scale":{"domain":[1.303497,1.328228],"nice":false,"zero":false},"axis":null}
 }},
{"data":{"values":[{}]},
 "mark":{"type":"point","shape":"triangle-down","filled":true,"size":60,"color":"#A0A0A0"},
 "encoding":{
  "x":{"datum":587.4,"type":"quantitative","scale":{"domain":[-1.625,934.625],"nice":false,"zero":false},"axis":null},
  "y":{"datum":1.328195,"type":"quantitative","scale":{"domain":[1.303497,1.328228],"nice":false,"zero":false},"axis":null}
 }}
]
}
